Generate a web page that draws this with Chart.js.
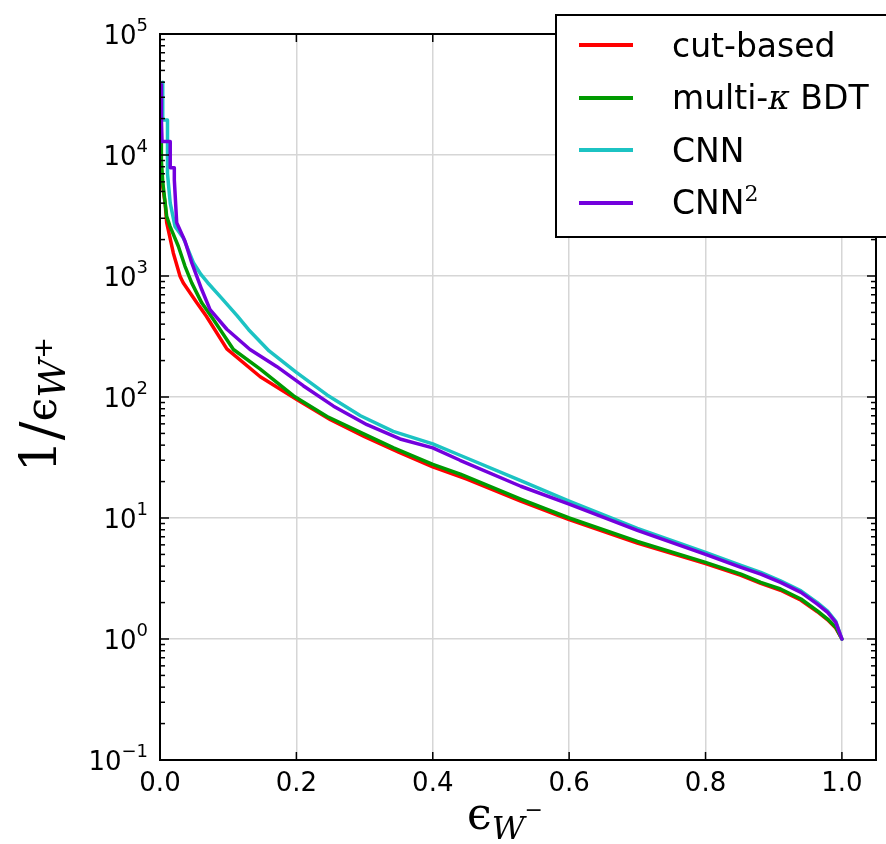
<!DOCTYPE html>
<html>
<head>
<meta charset="utf-8">
<script src="https://cdn.jsdelivr.net/npm/chart.js@4.4.1/dist/chart.umd.min.js"></script>
<style>
html,body{margin:0;padding:0;background:#fff;}
#wrap{width:886px;height:844px;position:relative;}
</style>
</head>
<body>
<div id="wrap"><canvas id="c" width="886" height="844"></canvas></div>
<script>
// ---- data ----
const seriesNames = ["cut-based", "multi-κ BDT", "CNN", "CNN2"];
const xTicks = [0.0, 0.2, 0.4, 0.6, 0.8, 1.0];
const yTicks = [0.1, 1, 10, 100, 1000, 10000, 100000];

const cutX = [0.0015, 0.0015, 0.004, 0.0075, 0.0098, 0.0195, 0.0294, 0.034, 0.039, 0.054, 0.062, 0.068, 0.098, 0.147, 0.200, 0.250, 0.300, 0.350, 0.400, 0.450, 0.529, 0.600, 0.700, 0.800, 0.852, 0.881, 0.910, 0.940, 0.964, 0.979, 0.991, 1.000];
const cutY = [10000, 8000, 5500, 4000, 2760, 1550, 995, 880, 800, 600, 520, 465, 250, 147, 96, 65, 47, 35, 26.5, 21, 13.8, 9.7, 6.2, 4.2, 3.36, 2.88, 2.53, 2.09, 1.68, 1.44, 1.23, 1.0];

const bdtX = [0.002, 0.002, 0.004, 0.0098, 0.0147, 0.0269, 0.0367, 0.0465, 0.0612, 0.0783, 0.1077, 0.147, 0.196, 0.245, 0.294, 0.3426, 0.400, 0.4405, 0.529, 0.600, 0.700, 0.800, 0.852, 0.881, 0.910, 0.940, 0.964, 0.979, 0.991, 1.000];
const bdtY = [12500, 9000, 6000, 3110, 2570, 1760, 1203, 877, 600, 437, 247, 170, 102, 69, 51, 38, 27.7, 23, 14.3, 10.0, 6.4, 4.3, 3.44, 2.94, 2.59, 2.14, 1.71, 1.46, 1.25, 1.0];

const cnnX = [0.004, 0.004, 0.011, 0.011, 0.015, 0.022, 0.034, 0.049, 0.060, 0.070, 0.090, 0.113, 0.130, 0.160, 0.200, 0.245, 0.294, 0.342, 0.400, 0.440, 0.529, 0.600, 0.700, 0.800, 0.852, 0.881, 0.910, 0.940, 0.964, 0.979, 0.991, 1.000];
const cnnY = [40000, 19500, 19500, 7000, 4000, 2570, 2075, 1290, 1030, 880, 660, 470, 360, 240, 160, 104, 70, 52, 41, 33, 20.4, 13.8, 8.2, 5.2, 4.05, 3.55, 3.03, 2.5, 2.0, 1.7, 1.4, 1.0];

const cnn2X = [0.002, 0.002, 0.003, 0.015, 0.015, 0.021, 0.021, 0.0245, 0.0367, 0.0465, 0.0612, 0.0734, 0.098, 0.132, 0.171, 0.210, 0.2545, 0.3035, 0.352, 0.400, 0.440, 0.529, 0.600, 0.700, 0.800, 0.852, 0.881, 0.910, 0.940, 0.964, 0.979, 0.991, 1.000];
const cnn2Y = [38000, 20000, 12900, 12900, 7840, 7840, 6240, 2760, 1935, 1290, 773, 528, 363, 247, 179, 124, 84, 59, 45, 38, 30, 18.3, 13.0, 7.9, 5.0, 3.91, 3.44, 2.94, 2.43, 1.94, 1.66, 1.37, 1.0];

const colors = ["#ff0000", "#009a00", "#1cc3c3", "#7300dd"];

function pts(xs, ys){ return xs.map((x,i)=>({x:x, y:ys[i]})); }

function drawRich(ctx, parts, x, y){
  let cx = x;
  parts.forEach(p=>{
    ctx.font = p.font;
    ctx.fillText(p.t, cx, y + (p.dy||0));
    cx += ctx.measureText(p.t).width + (p.gap||0);
  });
  return cx;
}

const framePlugin = {
  id: 'framePlugin',
  afterDraw(chart){
    const {ctx, chartArea:a, scales:{x, y}} = chart;
    ctx.save();
    ctx.strokeStyle = '#000';
    ctx.lineWidth = 1.5;
    const seg = (x1,y1,x2,y2)=>{ctx.beginPath();ctx.moveTo(x1,y1);ctx.lineTo(x2,y2);ctx.stroke();};
    xTicks.forEach(v=>{
      const px = x.getPixelForValue(v);
      seg(px, a.bottom, px, a.bottom-8);
      seg(px, a.top, px, a.top+8);
    });
    for (let e=-1; e<=5; e++){
      const py = y.getPixelForValue(Math.pow(10,e));
      seg(a.left, py, a.left+9, py);
      seg(a.right, py, a.right-9, py);
      if (e<5){
        for (let m=2; m<=9; m++){
          const pm = y.getPixelForValue(m*Math.pow(10,e));
          seg(a.left, pm, a.left+5, pm);
          seg(a.right, pm, a.right-5, pm);
        }
      }
    }
    ctx.lineWidth = 2;
    ctx.strokeRect(a.left, a.top, a.right-a.left, a.bottom-a.top);

    // y tick labels: 10 with superscript exponent
    ctx.fillStyle = '#000';
    ctx.textAlign = 'left';
    ctx.textBaseline = 'alphabetic';
    yTicks.forEach(v=>{
      const e = Math.round(Math.log10(v));
      const py = y.getPixelForValue(v);
      const base = '26px "DejaVu Sans"', supf = '18px "DejaVu Sans"';
      ctx.font = base; const wb = ctx.measureText("10").width;
      ctx.font = supf; const es = String(e).replace('-', '−'); const we = ctx.measureText(es).width;
      const x0 = 149 - we - wb - 1;
      drawRich(ctx, [{t:"10", font:base}, {t:es, font:supf, dy:-13, gap:0}], x0, py + 10);
    });

    // legend
    const lx = 556, ly = 15, lw = 340, lh = 222;
    ctx.fillStyle = '#fff';
    ctx.fillRect(lx, ly, lw, lh);
    ctx.lineWidth = 2;
    ctx.strokeStyle = '#000';
    ctx.strokeRect(lx, ly, lw, lh);
    const rows = [45, 98, 150, 203];
    rows.forEach((ry,i)=>{
      ctx.strokeStyle = colors[i];
      ctx.lineWidth = 4;
      seg(579, ry, 633, ry);
    });
    ctx.fillStyle = '#000';
    const sans = '33px "DejaVu Sans"';
    drawRich(ctx, [{t:"cut-based", font:sans}], 672, rows[0]+12);
    drawRich(ctx, [{t:"multi-", font:sans},{t:"κ", font:'italic 33px "DejaVu Serif"'},{t:" BDT", font:sans}], 672, rows[1]+11);
    drawRich(ctx, [{t:"CNN", font:sans}], 672, rows[2]+12);
    drawRich(ctx, [{t:"CNN", font:sans},{t:"2", font:'22px "DejaVu Serif"', dy:-13, gap:0}], 672, rows[3]+11);

    // x axis title
    drawRich(ctx, [
      {t:"ϵ", font:'44px "DejaVu Serif"'},
      {t:"W", font:'italic 32px "DejaVu Serif"', dy:10},
      {t:"−", font:'22px "DejaVu Serif"', dy:-12}
    ], 467, 829);

    // y axis title (rotated)
    ctx.translate(56, 472);
    ctx.rotate(-Math.PI/2);
    drawRich(ctx, [
      {t:"1", font:'50px "DejaVu Serif"'},
      {t:"/", font:'56px "DejaVu Serif"', dy:4},
      {t:"ϵ", font:'42px "DejaVu Serif"'},
      {t:"W", font:'italic 38px "DejaVu Serif"', dy:9},
      {t:"+", font:'26px "DejaVu Serif"', dy:-4}
    ], 0, 0);
    ctx.restore();
  }
};

const datasets = [
  {label: seriesNames[0], data: pts(cutX, cutY), borderColor: colors[0], order: 4},
  {label: seriesNames[1], data: pts(bdtX, bdtY), borderColor: colors[1], order: 3},
  {label: seriesNames[2], data: pts(cnnX, cnnY), borderColor: colors[2], order: 2},
  {label: seriesNames[3], data: pts(cnn2X, cnn2Y), borderColor: colors[3], order: 1}
].map(d=>Object.assign(d, {showLine:true, borderWidth:3.5, pointRadius:0, tension:0, fill:false, borderJoinStyle:'round', borderCapStyle:'round'}));

new Chart(document.getElementById('c'), {
  type: 'scatter',
  data: {datasets},
  plugins: [framePlugin],
  options: {
    responsive: false,
    animation: false,
    events: [],
    layout: {padding: {left:0, right:10, top:34, bottom:0}},
    plugins: {legend:{display:false}, tooltip:{enabled:false}},
    scales: {
      x: {
        type: 'linear', min: 0, max: 1.05,
        afterBuildTicks: s => { s.ticks = xTicks.map(v=>({value:v})); },
        afterFit: s => { s.height = 84; },
        grid: {color:'#d6d6d6', lineWidth:1.5, drawTicks:false},
        border: {display:false},
        ticks: {padding: 9, color:'#000', font:{family:'"DejaVu Sans"', size:26}, maxRotation:0, autoSkip:false, callback: v => Number(v).toFixed(1)}
      },
      y: {
        type: 'logarithmic', min: 0.1, max: 100000,
        afterBuildTicks: s => { s.ticks = yTicks.map(v=>({value:v})); },
        afterFit: s => { s.width = 160; },
        grid: {color:'#d6d6d6', lineWidth:1.5, drawTicks:false},
        border: {display:false},
        ticks: {display:false}
      }
    }
  }
});
</script>
</body>
</html>
